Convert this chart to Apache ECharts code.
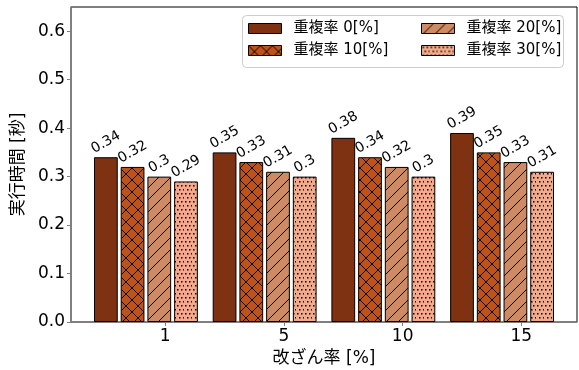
<!DOCTYPE html>
<html>
<head>
<meta charset="utf-8">
<script src="https://cdn.jsdelivr.net/npm/echarts@6/dist/echarts.min.js"></script>
<style>
  html, body { margin: 0; padding: 0; background: #ffffff; }
  #chart { width: 579px; height: 370px; }
</style>
</head>
<body>
<div id="chart"></div>
<script>
// ---- data ----
const categories = ['1', '5', '10', '15'];
const seriesNames = ['重複率 0[%]', '重複率 10[%]', '重複率 20[%]', '重複率 30[%]'];
const overlap0 = [0.34, 0.35, 0.38, 0.39];
const overlap10 = [0.32, 0.33, 0.34, 0.35];
const overlap20 = [0.30, 0.31, 0.32, 0.33];
const overlap30 = [0.29, 0.30, 0.30, 0.31];
const yTicks = [0.0, 0.1, 0.2, 0.3, 0.4, 0.5, 0.6];
const xAxisTitle = '改ざん率 [%]';
const yAxisTitle = '実行時間 [秒]';

// ---- layout / style ----
const FONT = "'DejaVu Sans', 'Noto Sans CJK JP', sans-serif";
const W = 579, H = 370;
const GRID = { left: 71, right: 2, top: 7, bottom: 48 };
const BAR_W = 0.2;        // bar width in category units
const STEP = 0.225;       // offset between bars of a group
const TICK_SHIFT = 0.5;   // tick position inside a group
const Y_MAX = 0.65;
const LABEL_SIZE = 14;
const LABEL_ROT = 30;

const colors = ['#7e3211', '#bf5219', '#cf8a63', '#f3a98a'];
const hatches = ['', 'x', '/', '.'];

function makePattern(bg, kind) {
  const size = kind === '.' ? 8 : 12;
  const c = document.createElement('canvas');
  c.width = size; c.height = size;
  const g = c.getContext('2d');
  g.fillStyle = bg;
  g.fillRect(0, 0, size, size);
  g.strokeStyle = '#000';
  g.fillStyle = '#000';
  g.lineWidth = 1;
  const line = (x1, y1, x2, y2) => { g.beginPath(); g.moveTo(x1, y1); g.lineTo(x2, y2); g.stroke(); };
  if (kind === '/' || kind === 'x') {
    line(-2, size + 2, size + 2, -2);
    line(-2, 2, 2, -2);
    line(size - 2, size + 2, size + 2, size - 2);
  }
  if (kind === 'x') {
    line(-2, -2, size + 2, size + 2);
    line(size - 2, -2, size + 2, 2);
    line(-2, size - 2, 2, size + 2);
  }
  if (kind === '.') {
    const dots = [[1, 1], [5, 1], [3, 5], [7, 5]];
    dots.forEach(([x, y]) => g.fillRect(x, y, 1.5, 1.5));
  }
  return c;
}

function fill(i) {
  if (!hatches[i]) return colors[i];
  return { image: makePattern(colors[i], hatches[i]), repeat: 'repeat' };
}

// x extent follows the bar positions plus a 5% margin on each side
const nGroups = categories.length;
const nSeries = seriesNames.length;
const lo = -BAR_W / 2;
const hi = (nGroups - 1) + (nSeries - 1) * STEP + BAR_W / 2;
const pad = 0.05 * (hi - lo);
const X_MIN = lo - pad, X_MAX = hi + pad;
const plotW = W - GRID.left - GRID.right;
const pxPerUnit = plotW / (X_MAX - X_MIN);

// rotated value labels: the centre of the rotated box sits half its height above the bar
const measure = document.createElement('canvas').getContext('2d');
measure.font = LABEL_SIZE + 'px ' + FONT;
function labelDistance(text) {
  const w = measure.measureText(text).width;
  const h = LABEL_SIZE;
  const a = LABEL_ROT * Math.PI / 180;
  const boxH = w * Math.sin(a) + h * Math.cos(a);
  return boxH / 2 + 1;
}

const allValues = [overlap0, overlap10, overlap20, overlap30];
const series = allValues.map((vals, k) => ({
  name: seriesNames[k],
  type: 'bar',
  barWidth: BAR_W * pxPerUnit,
  barGap: '-100%',
  itemStyle: { color: fill(k), borderColor: '#000', borderWidth: 1 },
  label: {
    show: true,
    position: 'top',
    rotate: LABEL_ROT,
    align: 'center',
    verticalAlign: 'middle',
    fontFamily: FONT,
    fontSize: LABEL_SIZE,
    color: '#000',
    formatter: p => String(p.value[1])
  },
  data: vals.map((v, i) => ({
    value: [i + k * STEP, v],
    label: { distance: labelDistance(String(v)) }
  }))
}));

const legendCommon = {
  orient: 'vertical',
  top: 21,
  padding: 0,
  itemWidth: 33,
  itemHeight: 10,
  itemGap: 7,
  icon: 'rect',
  itemStyle: { borderWidth: 1, borderColor: '#000' },
  textStyle: { fontFamily: FONT, fontSize: 15, color: '#000', padding: [0, 0, 0, 7] },
  selectedMode: false,
  z: 10
};

const chart = echarts.init(document.getElementById('chart'), null, { renderer: 'canvas' });
chart.setOption({
  animation: false,
  backgroundColor: '#ffffff',
  textStyle: { fontFamily: FONT },
  grid: {
    left: GRID.left, right: GRID.right, top: GRID.top, bottom: GRID.bottom,
    outerBoundsMode: 'none',
    containLabel: false,
    show: true, borderColor: '#000', borderWidth: 1, backgroundColor: 'transparent'
  },
  graphic: [{
    type: 'rect',
    z: 5,
    shape: { x: 242.5, y: 15.5, width: 321, height: 52, r: 4 },
    style: { fill: 'rgba(255,255,255,0.8)', stroke: '#cccccc', lineWidth: 1 }
  }],
  legend: [
    Object.assign({ left: 248, data: seriesNames.slice(0, 2) }, legendCommon),
    Object.assign({ left: 421, data: seriesNames.slice(2, 4) }, legendCommon)
  ],
  xAxis: {
    type: 'value',
    min: X_MIN,
    max: X_MAX,
    name: xAxisTitle,
    nameLocation: 'middle',
    nameGap: 27,
    nameTextStyle: { fontFamily: FONT, fontSize: 17, color: '#000' },
    axisLine: { show: true, onZero: false, lineStyle: { color: '#808080', width: 1.5 } },
    axisTick: {
      show: true, length: 4, inside: false,
      lineStyle: { color: '#808080', width: 1 },
      customValues: categories.map((c, i) => i + TICK_SHIFT)
    },
    axisLabel: {
      show: true, margin: 6,
      fontFamily: FONT, fontSize: 17, color: '#000',
      customValues: categories.map((c, i) => i + TICK_SHIFT),
      formatter: v => categories[Math.round(v - TICK_SHIFT)]
    },
    splitLine: { show: false }
  },
  yAxis: {
    type: 'value',
    min: 0,
    max: Y_MAX,
    name: yAxisTitle,
    nameLocation: 'middle',
    nameGap: 40,
    nameRotate: 90,
    nameTextStyle: { fontFamily: FONT, fontSize: 17, color: '#000' },
    axisLine: { show: true, onZero: false, lineStyle: { color: '#808080', width: 1.5 } },
    axisTick: {
      show: true, length: 4,
      lineStyle: { color: '#808080', width: 1 },
      customValues: yTicks
    },
    axisLabel: {
      show: true, margin: 6,
      fontFamily: FONT, fontSize: 17, color: '#000',
      customValues: yTicks,
      formatter: v => v.toFixed(1)
    },
    splitLine: { show: false }
  },
  series: series
});
</script>
</body>
</html>
